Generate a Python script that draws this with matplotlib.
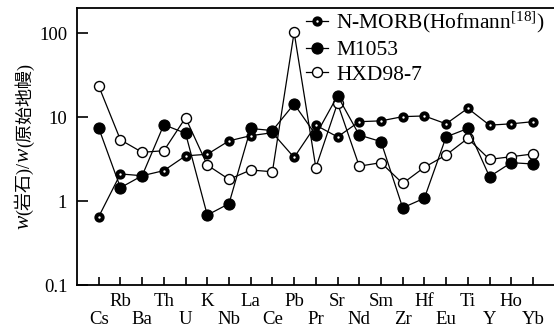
import matplotlib
matplotlib.use("Agg")
import matplotlib.pyplot as plt

elements = ["Cs", "Rb", "Ba", "Th", "U", "K", "Nb", "La", "Ce", "Pb", "Pr",
            "Sr", "Nd", "Sm", "Zr", "Hf", "Eu", "Ti", "Y", "Ho", "Yb"]
nmorb = [0.65, 2.1, 2.0, 2.3, 3.45, 3.6, 5.2, 6.0, 6.5, 3.3, 8.0,
         5.8, 8.8, 9.0, 10.1, 10.3, 8.3, 12.7, 8.0, 8.3, 8.8]
m1053 = [7.4, 1.44, 2.0, 8.1, 6.4, 0.68, 0.93, 7.3, 6.9, 14.3, 6.1,
         17.9, 6.1, 5.1, 0.83, 1.08, 5.8, 7.3, 1.95, 2.86, 2.76]
hxd = [23.4, 5.35, 3.8, 3.97, 9.8, 2.68, 1.81, 2.34, 2.23, 102, 2.5,
       14.6, 2.6, 2.86, 1.62, 2.52, 3.53, 5.57, 3.13, 3.37, 3.63]
labels = ["N-MORB(Hofmann$^{[18]}$)", "M1053", "HXD98-7"]
yticks = [0.1, 1, 10, 100]
yticklabels = ["0.1", "1", "10", "100"]

plt.rcParams['font.family'] = ['Liberation Serif', 'Noto Sans CJK SC']
plt.rcParams['mathtext.fontset'] = 'custom'
plt.rcParams['mathtext.rm'] = 'Liberation Serif'
plt.rcParams['mathtext.it'] = 'Liberation Serif:italic'

fig = plt.figure(figsize=(5.54, 3.33), dpi=100)
ax = fig.add_axes([77/554, 1-285/333, 1-77/554, (285-8)/333])

x = list(range(len(elements)))
lw = 0.9
h1, = ax.plot(x, nmorb, '-', color='black', lw=lw, marker='o', ms=4.6,
              mfc='white', mec='black', mew=2.8, zorder=3)
h2, = ax.plot(x, m1053, '-', color='black', lw=lw, marker='o', ms=8,
              mfc='black', mec='black', mew=0.8, zorder=4)
h3, = ax.plot(x, hxd, '-', color='black', lw=lw, marker='o', ms=7.2,
              mfc='white', mec='black', mew=1.0, zorder=2)

ax.set_yscale('log')
ax.set_ylim(0.1, 10**2.298)
ax.set_xlim(-1, 20.97)
ax.set_yticks(yticks)
ax.set_yticklabels(yticklabels)
ax.yaxis.set_minor_locator(matplotlib.ticker.NullLocator())
ax.set_xticks(x)
ax.set_xticklabels([e if i % 2 else "\n" + e for i, e in enumerate(elements)])
for t in ax.get_xticklabels():
    t.set_linespacing(1.05)
ax.tick_params(axis='y', direction='in', length=8, width=1.2, labelsize=13.5, pad=7)
ax.tick_params(axis='x', direction='in', length=6, width=1.2, labelsize=13.5, pad=6)
ax.spines['right'].set_visible(False)
for s in ['left', 'bottom', 'top']:
    ax.spines[s].set_linewidth(1.3)

leg = fig.legend([h1, h2, h3], labels, loc='upper left',
                 bbox_to_anchor=(306/554, 1-10/333), bbox_transform=fig.transFigure,
                 frameon=False, fontsize=15.5, handlelength=1.0, handletextpad=0.4,
                 labelspacing=0.22, borderpad=0, borderaxespad=0)

# y label pieces with italic w
fs = 13
t1 = fig.text(24/554, 1-229/333, "w", rotation=90, ha='center', va='bottom',
              fontsize=fs + 2.5, style='italic', family='Liberation Serif')
t2 = ax.annotate("(岩石)/", xy=(0.5, 1.0), xycoords=t1, rotation=90,
                 ha='center', va='bottom', fontsize=fs, annotation_clip=False)
t3 = ax.annotate("w", xy=(0.5, 1.0), xycoords=t2, rotation=90, ha='center',
                 va='bottom', fontsize=fs + 2.5, style='italic',
                 family='Liberation Serif', annotation_clip=False)
t4 = ax.annotate("(原始地幔)", xy=(0.5, 1.0), xycoords=t3, rotation=90,
                 ha='center', va='bottom', fontsize=fs, annotation_clip=False)

fig.savefig("out.png", dpi=100)
